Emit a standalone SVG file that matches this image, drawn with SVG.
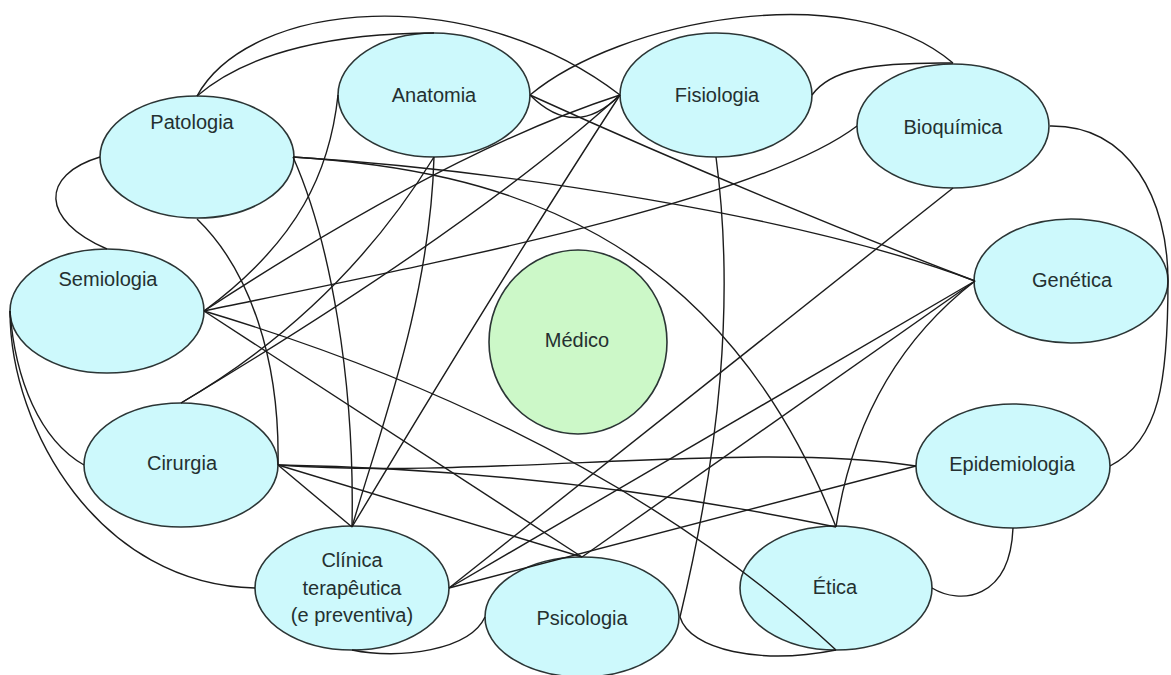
<svg xmlns="http://www.w3.org/2000/svg" width="1171" height="675" viewBox="0 0 1171 675">
  <style>
    .bg { fill: #ffffff; }
    .node { fill: #cdf9fc; stroke: #2b3535; stroke-width: 1.6; }
    .centre { fill: #ccf8c8; stroke: #2b3535; stroke-width: 1.6; }
    .label { font-family: "Liberation Sans", Arial, sans-serif; font-size: 20px; fill: #243030; text-anchor: middle; }
    .link { fill: none; stroke: #1c1c1c; stroke-width: 1.4; }
  </style>

  <rect class="bg" x="0" y="0" width="1171" height="675"/>

  <!-- disciplines around the centre -->
  <g id="patologia">
    <ellipse class="node" cx="197" cy="157" rx="97" ry="61"/>
    <text class="label" x="192" y="129">Patologia</text>
  </g>
  <g id="anatomia">
    <ellipse class="node" cx="434" cy="95" rx="96" ry="62"/>
    <text class="label" x="434" y="102">Anatomia</text>
  </g>
  <g id="fisiologia">
    <ellipse class="node" cx="716" cy="95" rx="96" ry="62"/>
    <text class="label" x="717" y="102">Fisiologia</text>
  </g>
  <g id="bioquimica">
    <ellipse class="node" cx="953" cy="126" rx="96" ry="62"/>
    <text class="label" x="953" y="134">Bioquímica</text>
  </g>
  <g id="genetica">
    <ellipse class="node" cx="1071" cy="281" rx="97" ry="62"/>
    <text class="label" x="1072" y="287">Genética</text>
  </g>
  <g id="epidemiologia">
    <ellipse class="node" cx="1013" cy="466" rx="97" ry="62"/>
    <text class="label" x="1012" y="471">Epidemiologia</text>
  </g>
  <g id="etica">
    <ellipse class="node" cx="836" cy="588" rx="96" ry="62"/>
    <text class="label" x="835" y="594">Ética</text>
  </g>
  <g id="psicologia">
    <ellipse class="node" cx="582" cy="617" rx="97" ry="60"/>
    <text class="label" x="582" y="625">Psicologia</text>
  </g>
  <g id="clinica">
    <ellipse class="node" cx="352" cy="588" rx="97" ry="62"/>
    <text class="label" x="352" y="567">Clínica</text>
    <text class="label" x="352" y="595">terapêutica</text>
    <text class="label" x="352" y="622">(e preventiva)</text>
  </g>
  <g id="cirurgia">
    <ellipse class="node" cx="181" cy="465" rx="97" ry="62"/>
    <text class="label" x="182" y="470">Cirurgia</text>
  </g>
  <g id="semiologia">
    <ellipse class="node" cx="107" cy="311" rx="97" ry="62"/>
    <text class="label" x="108" y="286">Semiologia</text>
  </g>
  <g id="medico">
    <ellipse class="centre" cx="578" cy="342" rx="89" ry="92"/>
    <text class="label" x="577" y="347">Médico</text>
  </g>

  <!-- relations between disciplines -->
  <g id="connectors">
    <path class="link" d="M197,96 C250,0 470,-20 620,95"/>
    <path class="link" d="M197,96 C250,50 340,33 434,33"/>
    <path class="link" d="M100,157 C40,175 40,220 107,249"/>
    <path class="link" d="M293,157 C500,170 800,215 975,281"/>
    <path class="link" d="M293,157 C500,170 720,230 836,527"/>
    <path class="link" d="M293,157 C330,240 355,380 352,527"/>
    <path class="link" d="M197,219 C250,270 280,360 278,465"/>
    <path class="link" d="M530,95 C620,20 850,-25 953,63"/>
    <path class="link" d="M530,95 Q575,140 620,95"/>
    <path class="link" d="M530,95 Q750,195 975,281"/>
    <path class="link" d="M338,95 C330,170 300,240 204,311"/>
    <path class="link" d="M434,157 C430,300 380,430 352,527"/>
    <path class="link" d="M434,157 Q340,310 181,403"/>
    <path class="link" d="M620,95 Q450,150 204,311"/>
    <path class="link" d="M620,95 Q470,230 181,403"/>
    <path class="link" d="M620,95 Q500,280 352,527"/>
    <path class="link" d="M812,95 C830,70 870,62 953,63"/>
    <path class="link" d="M716,157 C735,300 720,450 680,617"/>
    <path class="link" d="M1050,126 C1130,125 1168,200 1168,281 C1168,380 1160,440 1110,466"/>
    <path class="link" d="M857,126 C760,200 450,260 204,311"/>
    <path class="link" d="M953,188 L449,588"/>
    <path class="link" d="M975,281 L449,588"/>
    <path class="link" d="M975,281 L582,557"/>
    <path class="link" d="M975,281 Q860,370 836,527"/>
    <path class="link" d="M10,311 C15,380 40,440 84,465"/>
    <path class="link" d="M10,311 C10,430 100,585 255,588"/>
    <path class="link" d="M204,311 L582,557"/>
    <path class="link" d="M204,311 Q600,430 836,650"/>
    <path class="link" d="M278,465 L352,527"/>
    <path class="link" d="M278,465 L582,557"/>
    <path class="link" d="M278,465 Q560,470 836,527"/>
    <path class="link" d="M278,465 C480,480 750,440 916,466"/>
    <path class="link" d="M449,588 L916,466"/>
    <path class="link" d="M352,650 C400,660 470,650 485,617"/>
    <path class="link" d="M680,617 C690,650 760,665 836,650"/>
    <path class="link" d="M932,588 C960,605 1010,600 1013,528"/>
  </g>
</svg>
